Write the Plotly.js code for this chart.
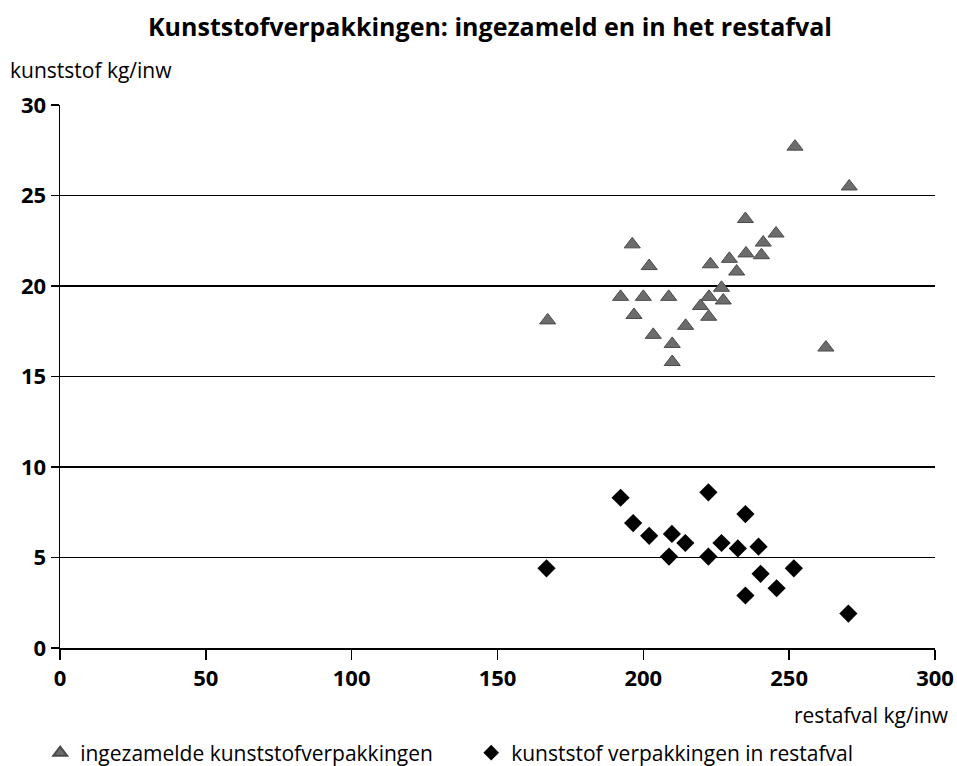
<!DOCTYPE html>
<html>
<head>
<meta charset="utf-8">
<script src="https://cdn.plot.ly/plotly-3.0.1.min.js"></script>
<style>html,body{margin:0;padding:0;background:#fff;}#chart{width:957px;height:766px;}</style>
</head>
<body>
<div id="chart"></div>
<script>
// Ingezamelde kunststofverpakkingen (triangles)
const ingezameldX = [252, 270.6, 235, 245.5, 241.1, 240.5, 235.2, 196.2, 229.5, 223, 232, 202, 226.8, 227.4, 222.5, 192.2, 200, 208.7, 219.6, 222.4, 196.8, 167.2, 214.5, 203.4, 209.9, 209.9, 262.6];
const ingezameldY = [27.7, 25.5, 23.7, 22.9, 22.4, 21.7, 21.8, 22.3, 21.5, 21.2, 20.8, 21.1, 19.9, 19.2, 19.4, 19.4, 19.4, 19.4, 18.9, 18.3, 18.4, 18.1, 17.8, 17.3, 16.8, 15.8, 16.6];
// Kunststof verpakkingen in restafval (diamonds)
const restafvalX = [192.2, 222.3, 235, 196.5, 202, 209.8, 214.4, 226.8, 232.4, 239.5, 208.8, 222.3, 166.8, 251.6, 240.2, 245.7, 235, 270.3];
const restafvalY = [8.3, 8.6, 7.4, 6.9, 6.2, 6.3, 5.8, 5.8, 5.5, 5.6, 5.05, 5.05, 4.4, 4.4, 4.1, 3.3, 2.9, 1.9];
const xTicks = [0, 50, 100, 150, 200, 250, 300];
const yTicks = [0, 5, 10, 15, 20, 25, 30];

const FONT = 'Open Sans, Noto Sans, sans-serif';

const traces = [
  {
    x: ingezameldX, y: ingezameldY, type: 'scatter', mode: 'markers',
    name: 'ingezamelde kunststofverpakkingen',
    marker: {symbol: 'triangle-up', size: 14, color: '#6c6c6c', line: {color: '#4a4a4a', width: 1}}
  },
  {
    x: restafvalX, y: restafvalY, type: 'scatter', mode: 'markers',
    name: 'kunststof verpakkingen in restafval',
    marker: {symbol: 'diamond', size: 14, color: '#000000', line: {width: 0}}
  }
];

const layout = {
  width: 957, height: 766,
  margin: {l: 60, r: 22, t: 105, b: 118},
  paper_bgcolor: '#ffffff', plot_bgcolor: '#ffffff',
  font: {family: FONT, color: '#000'},
  title: {text: '<b>Kunststofverpakkingen: ingezameld en in het restafval</b>', xref: 'container', yref: 'container', x: 0.512, xanchor: 'center', y: 0.965, yanchor: 'middle', font: {size: 25, family: FONT, color: '#000'}},
  xaxis: {
    range: [0, 300], tickvals: xTicks, ticktext: xTicks.map(String),
    showgrid: false, zeroline: false, showline: true, linecolor: '#000', linewidth: 1.5,
    ticks: 'outside', ticklen: 10, tickcolor: '#000', tickwidth: 1.5,
    tickfont: {size: 22, family: FONT, weight: 'bold', color: '#000'}, fixedrange: true
  },
  yaxis: {
    range: [0, 30], tickvals: yTicks, ticktext: yTicks.map(String),
    showgrid: true, gridcolor: '#000', gridwidth: 1.3, zeroline: false,
    showline: true, linecolor: '#000', linewidth: 1.5,
    ticks: 'outside', ticklen: 8, tickcolor: '#000', tickwidth: 1.5,
    tickfont: {size: 22, family: FONT, weight: 'bold', color: '#000'}, fixedrange: true
  },
  showlegend: true,
  legend: {orientation: 'h', xref: 'container', yref: 'container', x: 0.042, xanchor: 'left', y: 0.017, yanchor: 'middle',
           font: {size: 21, family: FONT, color: '#000'}, entrywidth: 386, itemsizing: 'constant', bgcolor: 'rgba(0,0,0,0)'},
  annotations: [
    {text: 'kunststof kg/inw', xref: 'paper', yref: 'paper', x: -0.059, y: 1.064, xanchor: 'left', yanchor: 'middle', showarrow: false, font: {size: 21, family: FONT, color: '#000'}},
    {text: 'restafval kg/inw', xref: 'paper', yref: 'paper', x: 1.018, y: -0.123, xanchor: 'right', yanchor: 'middle', showarrow: false, font: {size: 21, family: FONT, color: '#000'}}
  ]
};

Plotly.newPlot('chart', traces, layout, {displayModeBar: false, staticPlot: true});
</script>
</body>
</html>
